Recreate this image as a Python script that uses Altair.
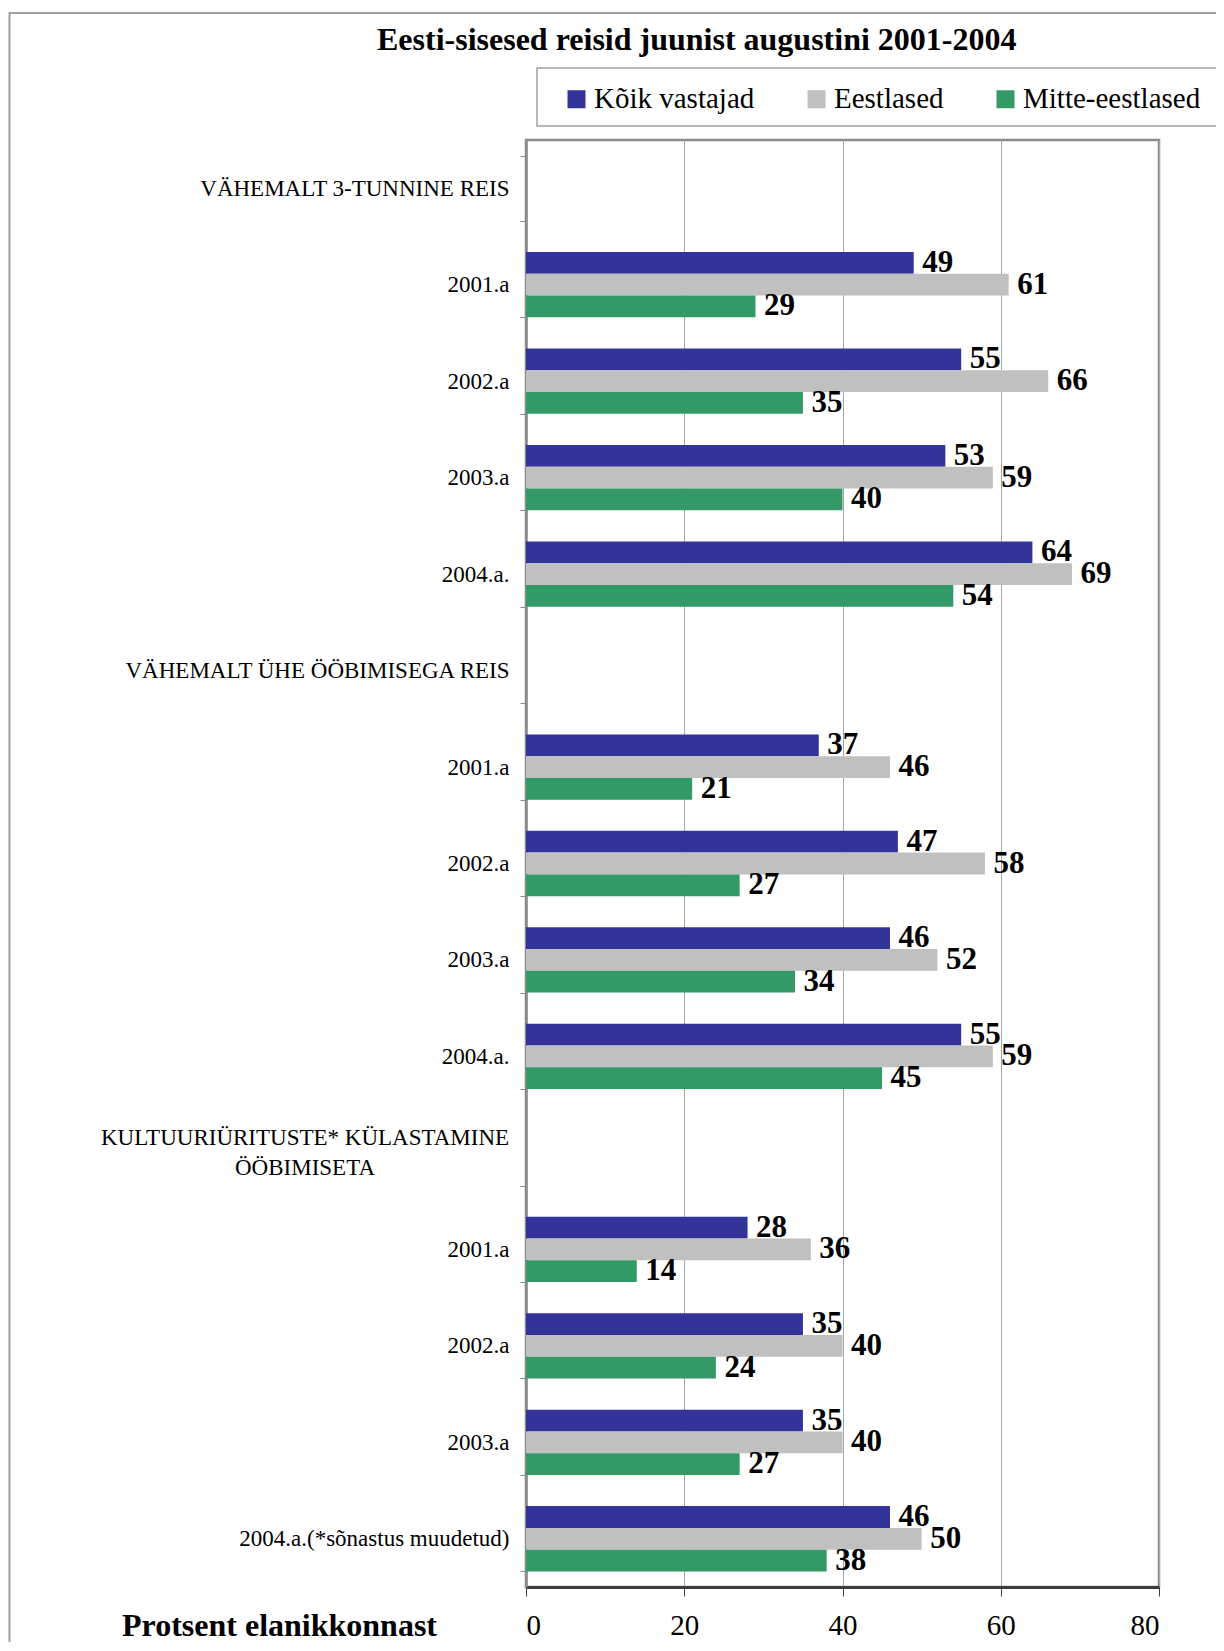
import altair as alt
import pandas as pd

FONT = "Liberation Serif"

title_text = "Eesti-sisesed reisid juunist augustini 2001-2004"
axis_title = "Protsent elanikkonnast"
series = ["Kõik vastajad", "Eestlased", "Mitte-eestlased"]
colors = ["#333399", "#c0c0c0", "#339966"]

header1 = "VÄHEMALT 3-TUNNINE REIS"
header2 = "VÄHEMALT ÜHE ÖÖBIMISEGA REIS"
header3 = "KULTUURIÜRITUSTE* KÜLASTAMINE|ÖÖBIMISETA"

years1 = ["2001.a", "2002.a", "2003.a", "2004.a."]
years2 = ["2001.a\u200b", "2002.a\u200b", "2003.a\u200b", "2004.a.\u200b"]
years3 = ["2001.a\u200b\u200b", "2002.a\u200b\u200b", "2003.a\u200b\u200b", "2004.a.(*sõnastus muudetud)"]

all_1 = [49, 55, 53, 64]
est_1 = [61, 66, 59, 69]
non_1 = [29, 35, 40, 54]

all_2 = [37, 47, 46, 55]
est_2 = [46, 58, 52, 59]
non_2 = [21, 27, 34, 45]

all_3 = [28, 35, 35, 46]
est_3 = [36, 40, 40, 50]
non_3 = [14, 24, 27, 38]

x_ticks = [0, 20, 40, 60, 80]

rows = [header1] + years1 + [header2] + years2 + [header3] + years3

records = []
for years, groups in [(years1, (all_1, est_1, non_1)),
                      (years2, (all_2, est_2, non_2)),
                      (years3, (all_3, est_3, non_3))]:
    for i, yr in enumerate(years):
        for s, vals in zip(series, groups):
            records.append({"row": yr, "series": s, "value": vals[i]})
df = pd.DataFrame(records)

W, H = 633, 1447

y_enc = alt.Y(
    "row:N",
    scale=alt.Scale(domain=rows, paddingInner=0.323, paddingOuter=0.1615),
    axis=alt.Axis(
        title=None,
        labelFont=FONT,
        labelFontSize=23,
        labelColor="black",
        labelPadding=11,
        labelLimit=600,
        labelExpr="indexof(datum.label, '|') >= 0 ? '' : datum.label",
        ticks=True,
        tickBand="extent",
        tickSize=6,
        tickColor="#8a8a8a",
        domainColor="#8a8a8a",
        domainWidth=2.5,
        grid=False,
    ),
)

x_enc = alt.X(
    "value:Q",
    scale=alt.Scale(domain=[0, 80], nice=False),
    axis=alt.Axis(
        values=x_ticks,
        title=axis_title,
        titleFont=FONT,
        titleFontSize=32,
        titleFontWeight="bold",
        titleColor="black",
        titleX=-247,
        titleY=38.5,
        titleBaseline="middle",
        titleAlign="center",
        labelFont=FONT,
        labelFontSize=29,
        labelColor="black",
        labelPadding=15,
        tickSize=9,
        tickColor="#404040",
        domainColor="#3c3c3c",
        domainWidth=3,
        grid=True,
        gridColor="#a6a6a6",
        gridWidth=1,
    ),
)

yoff = alt.YOffset(
    "series:N",
    scale=alt.Scale(domain=series, paddingInner=0, paddingOuter=0),
)

one = pd.DataFrame({"k": [0]})

outer_frame = alt.Chart(one).mark_rect(
    fillOpacity=0, stroke="#a0a0a0", strokeWidth=2
).encode(
    x=alt.value(-516.5), x2=alt.value(720), y=alt.value(-127), y2=alt.value(1530)
)

legend_box = alt.Chart(one).mark_rect(
    fillOpacity=0, stroke="#a0a0a0", strokeWidth=1.5
).encode(
    x=alt.value(11), x2=alt.value(720), y=alt.value(-72), y2=alt.value(-14)
)

header3_label = alt.Chart(pd.DataFrame({"row": [header3]})).mark_text(
    align="center", baseline="middle", lineBreak="|", lineHeight=29.5, dy=-14.75,
    font=FONT, fontSize=23, color="black"
).encode(
    y=alt.Y("row:N"),
    x=alt.value(-221),
    text=alt.Text("row:N"),
)

bars = alt.Chart(df).mark_bar().encode(
    x=x_enc,
    y=y_enc,
    yOffset=yoff,
    color=alt.Color(
        "series:N",
        scale=alt.Scale(domain=series, range=colors),
        legend=alt.Legend(
            title=None,
            orient="none",
            legendX=36,
            legendY=-55.5,
            direction="horizontal",
            symbolType="square",
            symbolSize=324,
            symbolStrokeWidth=0,
            labelFont=FONT,
            labelFontSize=29,
            labelColor="black",
            labelOffset=3,
            labelLimit=400,
            columnPadding=47,
            padding=0,
        ),
    ),
)

labels = alt.Chart(df).mark_text(
    align="left", baseline="middle", dx=8.5,
    font=FONT, fontSize=31, fontWeight="bold", color="black"
).encode(
    x=alt.X("value:Q"),
    y=alt.Y("row:N"),
    yOffset=alt.YOffset("series:N"),
    text=alt.Text("value:Q"),
)

chart = alt.layer(outer_frame, legend_box, bars, labels, header3_label).properties(
    width=W,
    height=H,
    autosize=alt.AutoSizeParams(type="none"),
    padding={"left": 518, "top": 132, "right": 57, "bottom": 55},
    title=alt.TitleParams(
        title_text,
        font=FONT,
        fontSize=32,
        fontWeight="bold",
        color="black",
        anchor="start",
        frame="group",
        offset=0,
        dx=-149,
        dy=45,
    ),
).configure(font=FONT).configure_view(stroke="#8a8a8a", strokeWidth=2.5)

chart.save("out.html", embed_options={"renderer": "svg", "actions": False})
